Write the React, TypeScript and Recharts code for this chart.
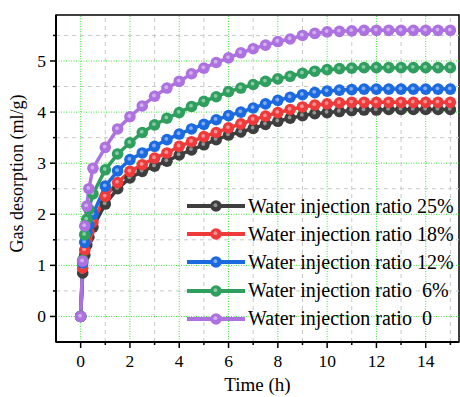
import React from "react";
import { LineChart, Line, XAxis, YAxis, ReferenceLine, ReferenceArea } from "recharts";

// sampling times (h)
const times = [
  0, 0.083, 0.167, 0.25, 0.333, 0.5, 1, 1.5, 2, 2.5, 3, 3.5, 4, 4.5, 5, 5.5, 6, 6.5,
  7, 7.5, 8, 8.5, 9, 9.5, 10, 10.5, 11, 11.5, 12, 12.5, 13, 13.5, 14, 14.5, 15,
];

// gas desorption (ml/g) per water injection ratio
const ratio25 = [
  0, 0.85, 1.2, 1.4, 1.55, 1.75, 2.2, 2.5, 2.71, 2.84, 2.94, 3.04, 3.16, 3.26, 3.36, 3.46,
  3.55, 3.61, 3.68, 3.76, 3.82, 3.88, 3.93, 3.97, 3.99, 4.01, 4.03, 4.04, 4.04, 4.05, 4.05,
  4.05, 4.05, 4.05, 4.05,
];
const ratio18 = [
  0, 0.95, 1.3, 1.5, 1.65, 1.85, 2.35, 2.62, 2.84, 2.97, 3.1, 3.2, 3.33, 3.42, 3.52, 3.6,
  3.69, 3.77, 3.85, 3.92, 3.99, 4.05, 4.1, 4.14, 4.16, 4.18, 4.19, 4.19, 4.19, 4.19, 4.19,
  4.19, 4.19, 4.19, 4.19,
];
const ratio12 = [
  0, 1.05, 1.45, 1.65, 1.8, 2.0, 2.55, 2.85, 3.07, 3.2, 3.33, 3.46, 3.57, 3.67, 3.76, 3.85,
  3.93, 4.0, 4.08, 4.16, 4.23, 4.29, 4.34, 4.38, 4.41, 4.43, 4.44, 4.45, 4.45, 4.45, 4.45,
  4.45, 4.45, 4.45, 4.45,
];
const ratio6 = [
  0, 1.1, 1.6, 1.9, 2.1, 2.4, 2.87, 3.18, 3.4, 3.6, 3.75, 3.88, 3.99, 4.11, 4.21, 4.3, 4.4,
  4.47, 4.54, 4.6, 4.65, 4.7, 4.76, 4.8, 4.83, 4.85, 4.86, 4.87, 4.87, 4.87, 4.87, 4.87,
  4.87, 4.87, 4.87,
];
const ratio0 = [
  0, 1.08, 1.77, 2.16, 2.5, 2.9, 3.31, 3.67, 3.91, 4.12, 4.31, 4.47, 4.6, 4.75, 4.86, 4.97,
  5.06, 5.16, 5.24, 5.31, 5.38, 5.43, 5.5, 5.54, 5.57, 5.58, 5.59, 5.6, 5.6, 5.6, 5.6, 5.6,
  5.6, 5.6, 5.6,
];

const xTicks = [0, 1, 2, 3, 4, 5, 6, 7, 8, 9, 10, 11, 12, 13, 14, 15];
const yTicks = [0, 0.5, 1, 1.5, 2, 2.5, 3, 3.5, 4, 4.5, 5, 5.5];
const xMajor = [0, 2, 4, 6, 8, 10, 12, 14];
const xMinor = [1, 3, 5, 7, 9, 11, 13, 15];
const yMajor = [0, 1, 2, 3, 4, 5];
const yMinor = [0.5, 1.5, 2.5, 3.5, 4.5, 5.5];

const series = [
  { key: "r25", name: "Water injection ratio 25%", color: "#3e3e3e", values: ratio25 },
  { key: "r18", name: "Water injection ratio 18%", color: "#ee3a3a", values: ratio18 },
  { key: "r12", name: "Water injection ratio 12%", color: "#1c6ae0", values: ratio12 },
  { key: "r6", name: "Water injection ratio  6%", color: "#2e9f5e", values: ratio6 },
  { key: "r0", name: "Water injection ratio  0", color: "#ad72e0", values: ratio0 },
];

const data = times.map((t, i) => {
  const row: Record<string, number> = { t };
  series.forEach((s) => {
    row[s.key] = s.values[i];
  });
  return row;
});

const FONT = "'Liberation Serif', 'Times New Roman', serif";

const XTick = (props: any) => {
  const { x, y, payload } = props;
  const major = payload.value % 2 === 0;
  return (
    <g>
      <line x1={x} x2={x} y1={y} y2={y + (major ? 6 : 3)} stroke="#000" strokeWidth={1.5} />
      {major && (
        <text x={x} y={y + 25} textAnchor="middle" fontSize={17.5} fontFamily={FONT} fill="#000">
          {payload.value}
        </text>
      )}
    </g>
  );
};

const YTick = (props: any) => {
  const { x, y, payload } = props;
  const major = Number.isInteger(payload.value);
  return (
    <g>
      <line x1={x} x2={x - (major ? 6 : 3)} y1={y} y2={y} stroke="#000" strokeWidth={1.5} />
      {major && (
        <text x={x - 10} y={y + 6} textAnchor="end" fontSize={17.5} fontFamily={FONT} fill="#000">
          {payload.value}
        </text>
      )}
    </g>
  );
};

const makeDot = (color: string, name: string) => (props: any) => {
  const { cx, cy, index } = props;
  if (cx == null || cy == null) return <g key={`${name}-${index}`} />;
  return (
    <g key={`${name}-${index}`}>
      <circle cx={cx} cy={cy} r={5.8} fill={color} />
      <circle cx={cx - 0.6} cy={cy - 0.8} r={1.9} fill="#fff" opacity={0.45} />
    </g>
  );
};

function LegendBox() {
  return (
    <div style={{ position: "absolute", left: 187, top: 192, fontFamily: FONT }}>
      {series.map((s) => (
        <div key={s.key} style={{ display: "flex", alignItems: "center", height: 28.2 }}>
          <svg width={58} height={14} style={{ display: "block" }}>
            <line x1={0} x2={58} y1={7} y2={7} stroke={s.color} strokeWidth={4} />
            <circle cx={29} cy={7} r={5.8} fill={s.color} />
            <circle cx={28.4} cy={6.2} r={1.9} fill="#fff" opacity={0.45} />
          </svg>
          <span style={{ fontSize: 20, marginLeft: 3, whiteSpace: "pre", color: "#000" }}>
            {s.name}
          </span>
        </div>
      ))}
    </div>
  );
}

export default function App() {
  return (
    <div style={{ position: "absolute", left: 0, top: 0, width: 460, height: 397, background: "#fff" }}>
      <LineChart width={460} height={397} data={data} margin={{ top: 15, right: 1, bottom: 0, left: 0 }}>
        <XAxis
          dataKey="t"
          type="number"
          domain={[-1, 15.35]}
          ticks={xTicks}
          tick={<XTick />}
          tickLine={false}
          tickSize={0}
          tickMargin={0}
          height={55}
          axisLine={{ stroke: "#000", strokeWidth: 2 }}
          allowDataOverflow
          label={{ value: "Time (h)", position: "insideBottom", offset: 6, fontSize: 19, fontFamily: FONT, fill: "#000" }}
        />
        <YAxis
          type="number"
          domain={[-0.5, 5.9]}
          ticks={yTicks}
          tick={<YTick />}
          tickLine={false}
          tickSize={0}
          tickMargin={0}
          width={56}
          axisLine={{ stroke: "#000", strokeWidth: 2 }}
          allowDataOverflow
          label={{
            value: "Gas desorption (ml/g)",
            angle: -90,
            position: "insideLeft",
            offset: 17,
            dy: -5,
            style: { textAnchor: "middle" },
            fontSize: 18,
            fontFamily: FONT,
            fill: "#000",
          }}
        />
        {xMinor.map((v) => (
          <ReferenceLine key={`xm${v}`} x={v} stroke="#c8c8c8" strokeDasharray="4 4" strokeWidth={1} />
        ))}
        {yMinor.map((v) => (
          <ReferenceLine key={`ym${v}`} y={v} stroke="#c8c8c8" strokeDasharray="4 4" strokeWidth={1} />
        ))}
        {xMajor.map((v) => (
          <ReferenceLine key={`xM${v}`} x={v} stroke="#3ee83e" strokeDasharray="1 1.5" strokeWidth={1} />
        ))}
        {yMajor.map((v) => (
          <ReferenceLine key={`yM${v}`} y={v} stroke="#3ee83e" strokeDasharray="1 1.5" strokeWidth={1} />
        ))}
        <ReferenceArea x1={-1} x2={15.35} y1={-0.5} y2={5.9} fill="none" stroke="#000" strokeWidth={1.5} />
        {series.map((s) => (
          <Line
            key={s.key}
            dataKey={s.key}
            name={s.name}
            stroke={s.color}
            strokeWidth={3.5}
            dot={makeDot(s.color, s.key)}
            activeDot={false}
            isAnimationActive={false}
          />
        ))}
      </LineChart>
      <LegendBox />
    </div>
  );
}
